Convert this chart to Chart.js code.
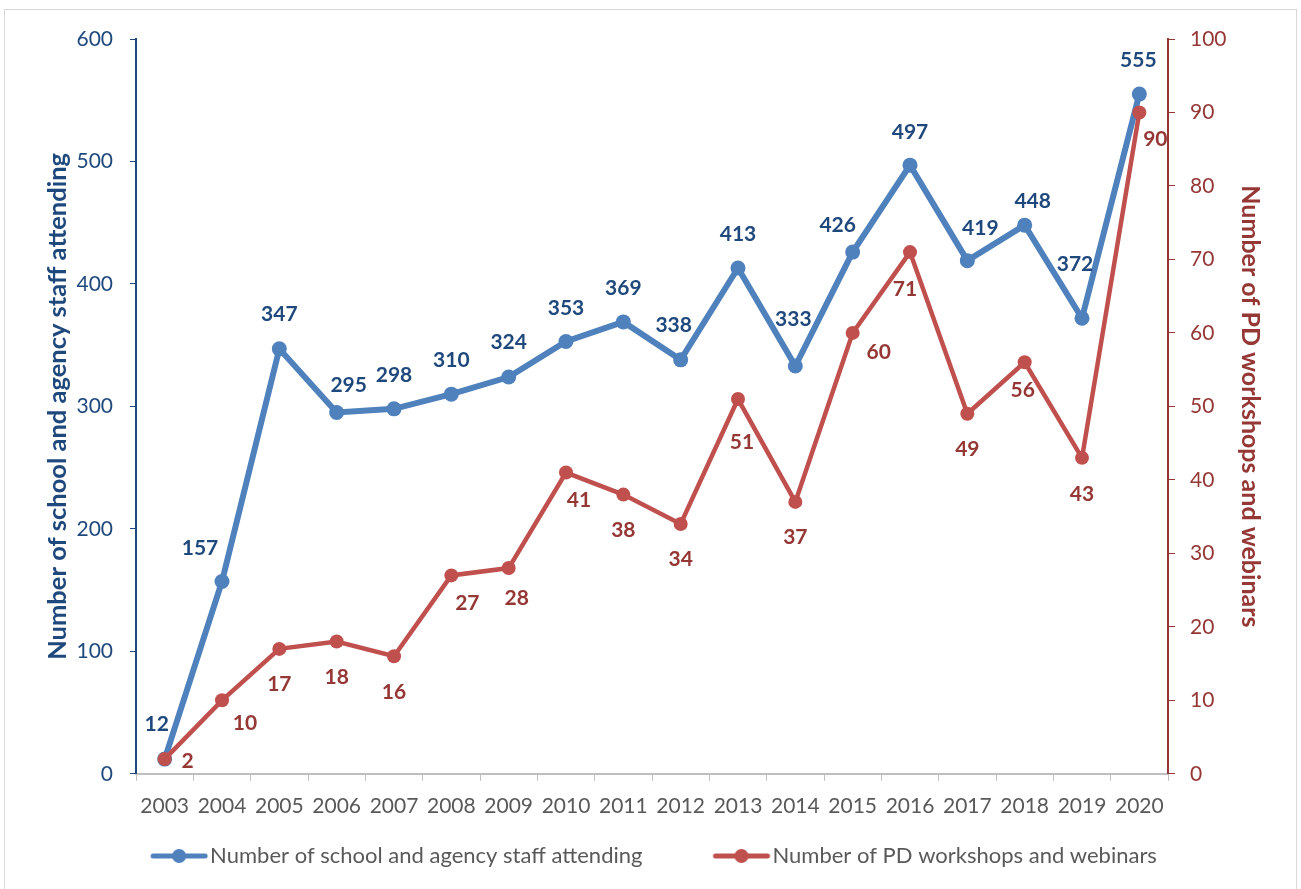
<!DOCTYPE html>
<html>
<head>
<meta charset="utf-8">
<script src="https://cdn.jsdelivr.net/npm/chart.js@4/dist/chart.umd.min.js"></script>
<style>
    html, body { margin: 0; padding: 0; background: #fff; }
    #wrap { position: relative; width: 1301px; height: 889px; }
    #frame { position: absolute; left: 4px; top: 9px; width: 1293px; height: 900px; border: 1px solid #d9d9d9; box-sizing: border-box; }
    #chart { position: absolute; left: 0; top: 0; }
</style>
</head>
<body>
<div id="wrap">
    <div id="frame"></div>
    <canvas id="chart" width="1301" height="889"></canvas>
</div>
<script>
const years = ['2003', '2004', '2005', '2006', '2007', '2008', '2009', '2010', '2011',
    '2012', '2013', '2014', '2015', '2016', '2017', '2018', '2019', '2020'];
const staffAttending = [12, 157, 347, 295, 298, 310, 324, 353, 369, 338, 413, 333, 426, 497, 419, 448, 372, 555];
const workshops = [2, 10, 17, 18, 16, 27, 28, 41, 38, 34, 51, 37, 60, 71, 49, 56, 43, 90];
const staffTicks = [0, 100, 200, 300, 400, 500, 600];
const workshopTicks = [0, 10, 20, 30, 40, 50, 60, 70, 80, 90, 100];

// where each value label sits relative to its point (px)
const staffLabelOffsets = [[-8, -35], [-22, -33], [0, -35], [12, -27], [0, -34], [0, -34], [0, -35], [0, -33], [0, -34],
    [-7, -35], [0, -34], [-2, -47], [-15, -27], [0, -33], [13, -32], [8, -24], [-7, -54], [-1, -34]];
const workshopLabelOffsets = [[23, 2], [23, 23], [0, 35], [0, 36], [0, 36], [16, 28], [8, 30], [13, 28], [0, 36],
    [0, 35], [4, 43], [0, 35], [26, 19], [-5, 37], [0, 35], [-2, 28], [0, 36], [16, 27]];

const BLUE = '#4f81bd', BLUE_DARK = '#1f497d';
const RED = '#c0504d', RED_DARK = '#953735';
const FONT = 'Lato, "Open Sans", sans-serif';

// legend swatch: line with a dot, pushed to the right end so it sits close to the text
const SWATCH_W = 106;
function legendMark(color) {
    const c = document.createElement('canvas');
    c.width = SWATCH_W + 20;
    c.height = 16;
    const g = c.getContext('2d');
    const x1 = c.width - 4, x0 = x1 - 52;
    g.strokeStyle = color;
    g.lineWidth = 5;
    g.lineCap = 'round';
    g.beginPath();
    g.moveTo(x0, 8);
    g.lineTo(x1, 8);
    g.stroke();
    g.fillStyle = color;
    g.beginPath();
    g.arc((x0 + x1) / 2, 8, 7, 0, Math.PI * 2);
    g.fill();
    return c;
}
const marks = [legendMark(BLUE), legendMark(RED)];

const pointValues = {
    id: 'pointValues',
    afterDatasetsDraw(chart) {
        const ctx = chart.ctx;
        ctx.save();
        ctx.font = 'bold 21px ' + FONT;
        ctx.textAlign = 'center';
        ctx.textBaseline = 'middle';
        chart.data.datasets.forEach((ds, di) => {
            const meta = chart.getDatasetMeta(di);
            const offs = di === 0 ? staffLabelOffsets : workshopLabelOffsets;
            ctx.fillStyle = di === 0 ? BLUE_DARK : RED_DARK;
            meta.data.forEach((pt, i) => {
                ctx.fillText(String(ds.data[i]), pt.x + offs[i][0], pt.y + offs[i][1]);
            });
        });
        ctx.restore();
    }
};

new Chart(document.getElementById('chart'), {
    type: 'line',
    data: {
        labels: years,
        datasets: [
            {
                label: 'Number of school and agency staff attending',
                data: staffAttending,
                yAxisID: 'y',
                borderColor: BLUE,
                backgroundColor: BLUE,
                borderWidth: 6,
                pointRadius: 7.5,
                pointBorderWidth: 0,
                tension: 0,
                order: 2
            },
            {
                label: 'Number of PD workshops and webinars',
                data: workshops,
                yAxisID: 'y1',
                borderColor: RED,
                backgroundColor: RED,
                borderWidth: 4.5,
                pointRadius: 7,
                pointBorderWidth: 0,
                tension: 0,
                order: 1
            }
        ]
    },
    options: {
        responsive: false,
        animation: false,
        layout: { padding: { left: -15, right: 36, top: 39, bottom: 12 } },
        scales: {
            x: {
                offset: true,
                grid: { drawOnChartArea: false, drawTicks: true, tickLength: 7, color: '#bfbfbf', offset: true },
                border: { color: '#bfbfbf', width: 2 },
                ticks: { color: '#595959', font: { family: FONT, size: 21 }, padding: 13, maxRotation: 0, autoSkip: false }
            },
            y: {
                position: 'left',
                min: 0,
                max: 600,
                afterBuildTicks: (axis) => { axis.ticks = staffTicks.map(v => ({ value: v })); },
                afterFit: (axis) => { axis.width = 151; },
                grid: { drawOnChartArea: false, drawTicks: true, tickLength: 6, color: BLUE_DARK },
                border: { color: BLUE_DARK, width: 2 },
                ticks: { color: BLUE_DARK, font: { family: FONT, size: 21 }, padding: 17 },
                title: {
                    display: true,
                    text: 'Number of school and agency staff attending',
                    color: BLUE_DARK,
                    font: { family: FONT, size: 25.5, weight: 'bold' },
                    padding: { top: 57, bottom: 0 }
                }
            },
            y1: {
                position: 'right',
                min: 0,
                max: 100,
                afterBuildTicks: (axis) => { axis.ticks = workshopTicks.map(v => ({ value: v })); },
                afterFit: (axis) => { axis.width = 97; },
                grid: { drawOnChartArea: false, drawTicks: true, tickLength: 7, color: RED_DARK },
                border: { color: RED_DARK, width: 2 },
                ticks: { color: RED_DARK, font: { family: FONT, size: 21 }, padding: 15 },
                title: {
                    display: true,
                    text: 'Number of PD workshops and webinars',
                    color: RED_DARK,
                    font: { family: FONT, size: 25, weight: 'bold' },
                    padding: { top: 0, bottom: 0 }
                }
            }
        },
        plugins: {
            tooltip: { enabled: false },
            legend: {
                position: 'bottom',
                labels: {
                    color: '#595959',
                    font: { family: FONT, size: 22 },
                    usePointStyle: true,
                    pointStyleWidth: SWATCH_W,
                    boxHeight: 16,
                    padding: 13,
                    sort: (a, b) => a.datasetIndex - b.datasetIndex,
                    generateLabels: (chart) => {
                        const items = Chart.defaults.plugins.legend.labels.generateLabels(chart);
                        items.forEach(it => { it.pointStyle = marks[it.datasetIndex]; });
                        return items;
                    }
                }
            }
        }
    },
    plugins: [pointValues]
});
</script>
</body>
</html>
